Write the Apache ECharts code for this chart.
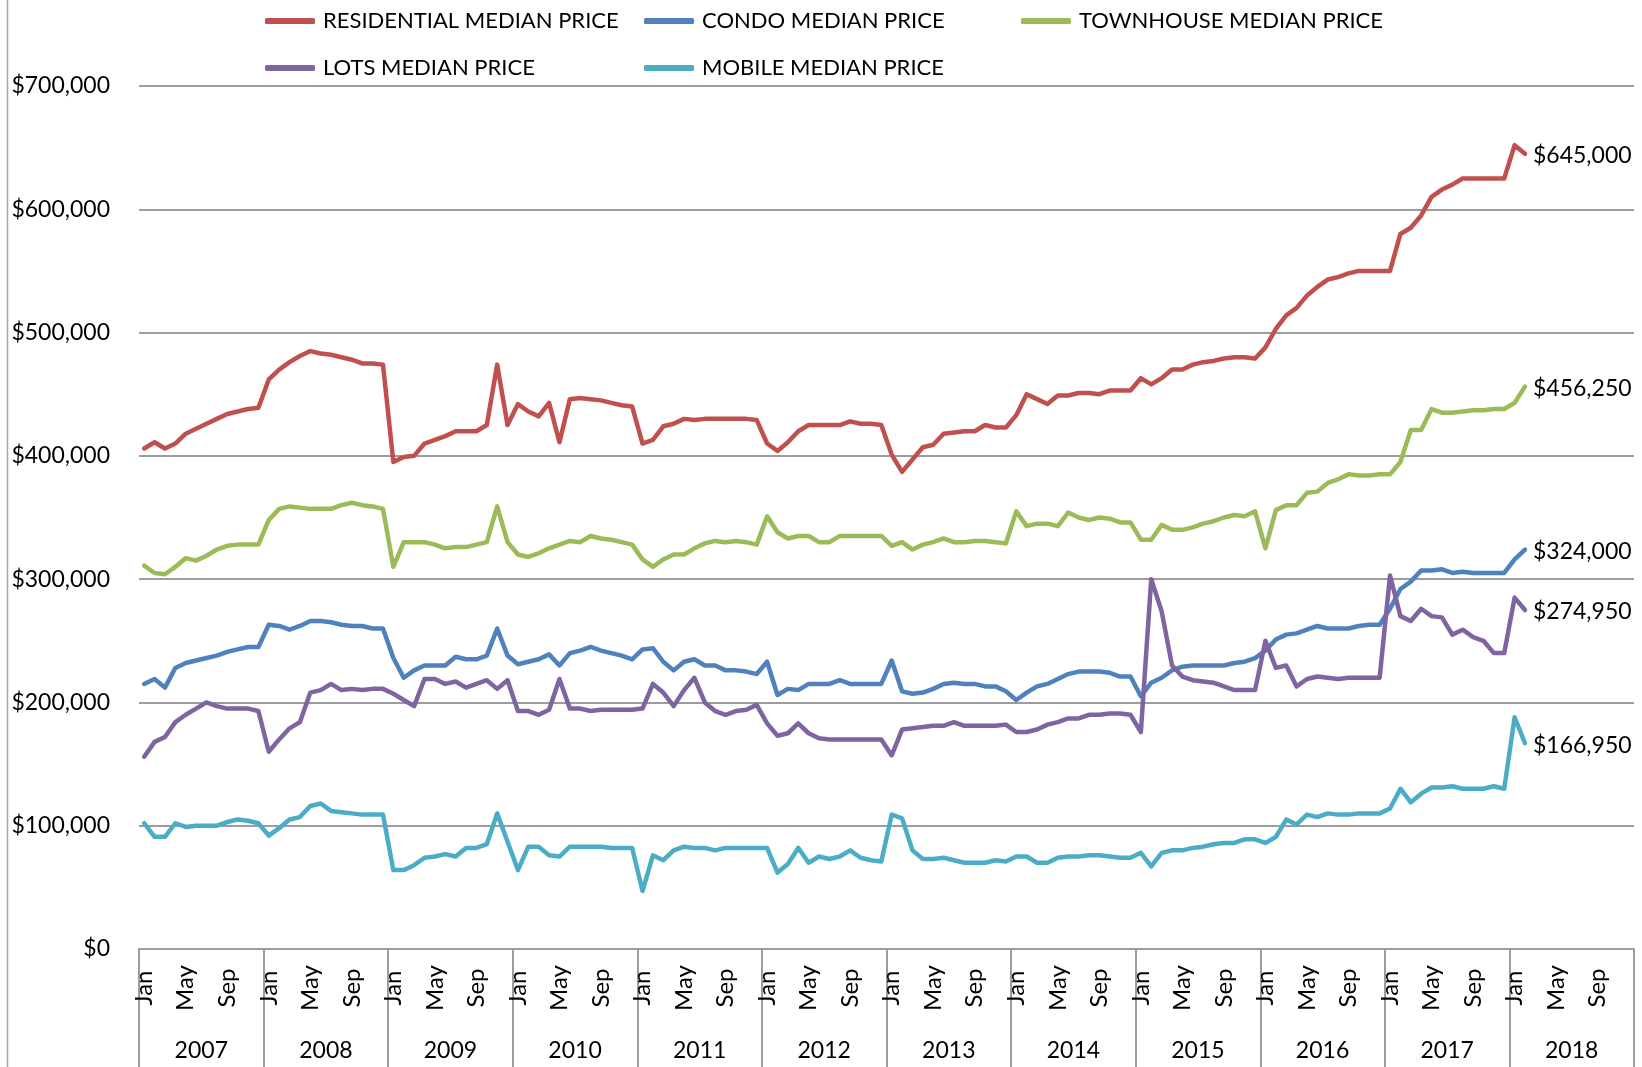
<!DOCTYPE html>
<html>
<head>
<meta charset="utf-8">
<title>Median Prices</title>
<script src="https://cdn.jsdelivr.net/npm/echarts@6/dist/echarts.min.js"></script>
<style>
  html, body { margin: 0; padding: 0; background: #fff; }
  #chart { width: 1642px; height: 1067px; }
</style>
</head>
<body>
<div id="chart"></div>
<script>
// categories
const years = ['2007', '2008', '2009', '2010', '2011', '2012', '2013', '2014', '2015', '2016', '2017', '2018']
const monthNames = ['Jan', 'Feb', 'Mar', 'Apr', 'May', 'Jun', 'Jul', 'Aug', 'Sep', 'Oct', 'Nov', 'Dec']
const yTicks = [0, 100000, 200000, 300000, 400000, 500000, 600000, 700000]

// monthly values, Jan 2007 - Feb 2018
const residential = [
  406000, 411000, 406000, 410000, 418000, 422000, 426000, 430000, 434000, 436000, 438000, 439000,
  462000, 470000, 476000, 481000, 485000, 483000, 482000, 480000, 478000, 475000, 475000, 474000,
  395000, 399000, 400000, 410000, 413000, 416000, 420000, 420000, 420000, 425000, 474000, 425000,
  442000, 436000, 432000, 443000, 411000, 446000, 447000, 446000, 445000, 443000, 441000, 440000,
  410000, 413000, 424000, 426000, 430000, 429000, 430000, 430000, 430000, 430000, 430000, 429000,
  410000, 404000, 411000, 420000, 425000, 425000, 425000, 425000, 428000, 426000, 426000, 425000,
  401000, 387000, 397000, 407000, 409000, 418000, 419000, 420000, 420000, 425000, 423000, 423000,
  433000, 450000, 446000, 442000, 449000, 449000, 451000, 451000, 450000, 453000, 453000, 453000,
  463000, 458000, 463000, 470000, 470000, 474000, 476000, 477000, 479000, 480000, 480000, 479000,
  488000, 503000, 514000, 520000, 530000, 537000, 543000, 545000, 548000, 550000, 550000, 550000,
  550000, 580000, 585000, 595000, 610000, 616000, 620000, 625000, 625000, 625000, 625000, 625000,
  652000, 645000
]
const condo = [
  215000, 219000, 212000, 228000, 232000, 234000, 236000, 238000, 241000, 243000, 245000, 245000,
  263000, 262000, 259000, 262000, 266000, 266000, 265000, 263000, 262000, 262000, 260000, 260000,
  236000, 220000, 226000, 230000, 230000, 230000, 237000, 235000, 235000, 238000, 260000, 238000,
  231000, 233000, 235000, 239000, 230000, 240000, 242000, 245000, 242000, 240000, 238000, 235000,
  243000, 244000, 233000, 226000, 233000, 235000, 230000, 230000, 226000, 226000, 225000, 223000,
  233000, 206000, 211000, 210000, 215000, 215000, 215000, 218000, 215000, 215000, 215000, 215000,
  234000, 209000, 207000, 208000, 211000, 215000, 216000, 215000, 215000, 213000, 213000, 209000,
  202000, 208000, 213000, 215000, 219000, 223000, 225000, 225000, 225000, 224000, 221000, 221000,
  205000, 216000, 220000, 226000, 229000, 230000, 230000, 230000, 230000, 232000, 233000, 236000,
  242000, 251000, 255000, 256000, 259000, 262000, 260000, 260000, 260000, 262000, 263000, 263000,
  276000, 292000, 298000, 307000, 307000, 308000, 305000, 306000, 305000, 305000, 305000, 305000,
  316000, 324000
]
const townhouse = [
  311000, 305000, 304000, 310000, 317000, 315000, 319000, 324000, 327000, 328000, 328000, 328000,
  348000, 357000, 359000, 358000, 357000, 357000, 357000, 360000, 362000, 360000, 359000, 357000,
  310000, 330000, 330000, 330000, 328000, 325000, 326000, 326000, 328000, 330000, 359000, 330000,
  320000, 318000, 321000, 325000, 328000, 331000, 330000, 335000, 333000, 332000, 330000, 328000,
  316000, 310000, 316000, 320000, 320000, 325000, 329000, 331000, 330000, 331000, 330000, 328000,
  351000, 338000, 333000, 335000, 335000, 330000, 330000, 335000, 335000, 335000, 335000, 335000,
  327000, 330000, 324000, 328000, 330000, 333000, 330000, 330000, 331000, 331000, 330000, 329000,
  355000, 343000, 345000, 345000, 343000, 354000, 350000, 348000, 350000, 349000, 346000, 346000,
  332000, 332000, 344000, 340000, 340000, 342000, 345000, 347000, 350000, 352000, 351000, 355000,
  325000, 356000, 360000, 360000, 370000, 371000, 378000, 381000, 385000, 384000, 384000, 385000,
  385000, 395000, 421000, 421000, 438000, 435000, 435000, 436000, 437000, 437000, 438000, 438000,
  443000, 456250
]
const lots = [
  156000, 168000, 172000, 184000, 190000, 195000, 200000, 197000, 195000, 195000, 195000, 193000,
  160000, 170000, 179000, 184000, 208000, 210000, 215000, 210000, 211000, 210000, 211000, 211000,
  207000, 202000, 197000, 219000, 219000, 215000, 217000, 212000, 215000, 218000, 211000, 218000,
  193000, 193000, 190000, 194000, 219000, 195000, 195000, 193000, 194000, 194000, 194000, 194000,
  195000, 215000, 208000, 197000, 210000, 220000, 200000, 193000, 190000, 193000, 194000, 198000,
  183000, 173000, 175000, 183000, 175000, 171000, 170000, 170000, 170000, 170000, 170000, 170000,
  157000, 178000, 179000, 180000, 181000, 181000, 184000, 181000, 181000, 181000, 181000, 182000,
  176000, 176000, 178000, 182000, 184000, 187000, 187000, 190000, 190000, 191000, 191000, 190000,
  176000, 300000, 274000, 230000, 221000, 218000, 217000, 216000, 213000, 210000, 210000, 210000,
  250000, 228000, 230000, 213000, 219000, 221000, 220000, 219000, 220000, 220000, 220000, 220000,
  303000, 270000, 266000, 276000, 270000, 269000, 255000, 259000, 253000, 250000, 240000, 240000,
  285000, 274950
]
const mobile = [
  102000, 91000, 91000, 102000, 99000, 100000, 100000, 100000, 103000, 105000, 104000, 102000,
  92000, 98000, 105000, 107000, 116000, 118000, 112000, 111000, 110000, 109000, 109000, 109000,
  64000, 64000, 68000, 74000, 75000, 77000, 75000, 82000, 82000, 85000, 110000, 87000,
  64000, 83000, 83000, 76000, 75000, 83000, 83000, 83000, 83000, 82000, 82000, 82000,
  47000, 76000, 72000, 80000, 83000, 82000, 82000, 80000, 82000, 82000, 82000, 82000,
  82000, 62000, 69000, 82000, 70000, 75000, 73000, 75000, 80000, 74000, 72000, 71000,
  109000, 106000, 80000, 73000, 73000, 74000, 72000, 70000, 70000, 70000, 72000, 71000,
  75000, 75000, 70000, 70000, 74000, 75000, 75000, 76000, 76000, 75000, 74000, 74000,
  78000, 67000, 78000, 80000, 80000, 82000, 83000, 85000, 86000, 86000, 89000, 89000,
  86000, 91000, 105000, 101000, 109000, 107000, 110000, 109000, 109000, 110000, 110000, 110000,
  114000, 130000, 119000, 126000, 131000, 131000, 132000, 130000, 130000, 130000, 132000, 130000,
  188000, 166950
]

const FONT = 'Lato, "Open Sans", sans-serif'
const FS = 23
const GRID_COLOR = '#9c9c9c'

const monthCats = []
const yearCats = []
years.forEach(function(y) {
  monthNames.forEach(function(m) {
    monthCats.push(m)
  })
  yearCats.push(y)
})

function money(v) {
  return '$' + Number(v).toLocaleString('en-US')
}

const seriesDefs = [
  { name: 'RESIDENTIAL MEDIAN PRICE', color: '#c0504d', data: residential },
  { name: 'CONDO MEDIAN PRICE', color: '#4f81bd', data: condo },
  { name: 'TOWNHOUSE MEDIAN PRICE', color: '#9bbb59', data: townhouse },
  { name: 'LOTS MEDIAN PRICE', color: '#8064a2', data: lots },
  { name: 'MOBILE MEDIAN PRICE', color: '#4bacc6', data: mobile }
]

// legend slots (two rows like the original)
const legendPos = [
  { left: 265, top: 7 },
  { left: 644, top: 7 },
  { left: 1021, top: 7 },
  { left: 265, top: 54 },
  { left: 644, top: 54 }
]

const chart = echarts.init(document.getElementById('chart'))

const option = {
  animation: false,
  backgroundColor: '#fff',
  textStyle: { fontFamily: FONT },
  legend: seriesDefs.map(function(s, i) {
    return {
      data: [s.name],
      left: legendPos[i].left,
      top: legendPos[i].top,
      padding: 0,
      icon: 'roundRect',
      itemWidth: 50,
      itemHeight: 6,
      selectedMode: false,
      textStyle: { fontFamily: FONT, fontSize: 22, color: '#000', lineHeight: 28, padding: [0, 0, 0, 3] }
    }
  }),
  grid: { left: 139, right: 8, top: 86, bottom: 118 },
  xAxis: [
    {
      type: 'category',
      data: monthCats,
      boundaryGap: true,
      axisLine: { show: true, lineStyle: { color: GRID_COLOR, width: 2 } },
      axisTick: { show: false },
      axisLabel: {
        interval: function(index) { return index % 4 === 0 },
        rotate: 90,
        align: 'center',
        verticalAlign: 'middle',
        margin: 39,
        fontFamily: FONT,
        fontSize: 24,
        color: '#000'
      }
    },
    {
      type: 'category',
      data: yearCats,
      position: 'bottom',
      boundaryGap: true,
      axisLine: { show: false },
      axisTick: { show: true, length: 118, lineStyle: { color: GRID_COLOR, width: 2 } },
      axisLabel: { margin: 90, fontFamily: FONT, fontSize: FS, color: '#000' }
    }
  ],
  yAxis: {
    type: 'value',
    min: yTicks[0],
    max: yTicks[yTicks.length - 1],
    interval: 100000,
    axisLine: { show: false },
    axisTick: { show: false },
    splitLine: { lineStyle: { color: GRID_COLOR, width: 2 } },
    axisLabel: {
      margin: 29,
      fontFamily: FONT,
      fontSize: FS,
      color: '#000',
      formatter: money
    }
  },
  graphic: [
    {
      type: 'line',
      shape: { x1: 7.5, y1: 0, x2: 7.5, y2: 1067 },
      style: { stroke: '#a6a6a6', lineWidth: 1.5 }
    }
  ],
  series: seriesDefs.map(function(s) {
    return {
      name: s.name,
      type: 'line',
      data: s.data,
      showSymbol: false,
      color: s.color,
      lineStyle: { width: 4.5, color: s.color, join: 'round', cap: 'round' },
      endLabel: {
        show: true,
        distance: 8,
        fontFamily: FONT,
        fontSize: FS,
        color: '#000',
        offset: [0, 2],
        formatter: function(p) { return money(p.value) }
      }
    }
  })
}

chart.setOption(option)
</script>
</body>
</html>
